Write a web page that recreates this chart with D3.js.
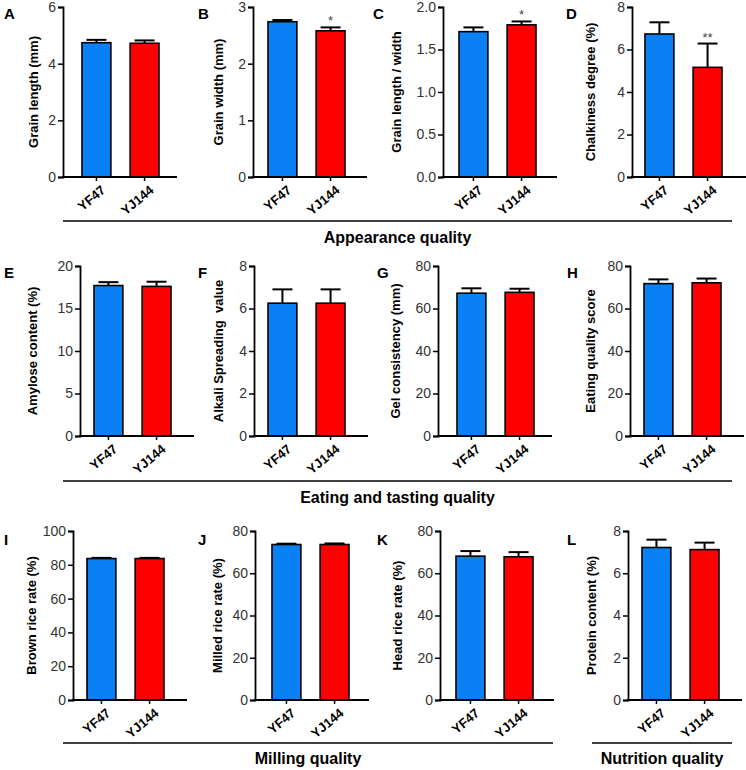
<!DOCTYPE html>
<html><head><meta charset="utf-8">
<script src="https://cdn.jsdelivr.net/npm/d3@7/dist/d3.min.js"></script>
<style>
body{margin:0;background:#fff;}
svg{font-family:"Liberation Sans",Arial,sans-serif;}
</style></head>
<body><svg id="c" width="746" height="770"></svg>
<script>
// ---- data ----
const categories = ["YF47", "YJ144"];
const panelLetters = ["A","B","C","D","E","F","G","H","I","J","K","L"];
const yLabels = ["Grain length (mm)","Grain width (mm)","Grain length / width","Chalkiness degree (%)",
  "Amylose content (%)","Alkali Spreading  value","Gel consistency (mm)","Eating quality score",
  "Brown rice rate (%)","Milled rice rate (%)","Head rice rate (%)","Protein content (%)"];
const yf47Mean = [4.74, 2.74, 1.71, 6.73, 17.7, 6.25, 67.2, 71.7, 83.7, 73.6, 68.1, 7.22];
const yf47Err  = [0.10, 0.03, 0.05, 0.55, 0.40, 0.65, 2.3, 2.0, 0.4, 0.4, 2.4, 0.37];
const yj144Mean= [4.72, 2.58, 1.79, 5.16, 17.6, 6.25, 67.6, 72.1, 83.7, 73.6, 67.8, 7.12];
const yj144Err = [0.10, 0.06, 0.04, 1.12, 0.55, 0.65, 1.7, 2.0, 0.4, 0.5, 2.2, 0.33];
const yTicks = [[0,2,4,6],[0,1,2,3],[0,0.5,1.0,1.5,2.0],[0,2,4,6,8],
  [0,5,10,15,20],[0,2,4,6,8],[0,20,40,60,80],[0,20,40,60,80],
  [0,20,40,60,80,100],[0,20,40,60,80],[0,20,40,60,80],[0,2,4,6,8]];
const tickFormats = ["d","d",".1f","d","d","d","d","d","d","d","d","d"];
const significance = [["",""],["","*"],["","*"],["","**"],["",""],["",""],["",""],["",""],["",""],["",""],["",""],["",""]];
const groupNames = ["Appearance quality","Eating and tasting quality","Milling quality","Nutrition quality"];

// ---- layout ----
const axisX   = [63,253,443,632, 80,254,438,630, 73,255,440,628];
const barOff  = [19,15,16,13, 14,14,19,14, 14,17,16,14];
const labelX  = [33,218,396,590, 32,218,395,590, 31,217,397,591];
const letterX = [4,198,373,566, 4,198,377,567, 4,198,377,567];
const rowTop  = [7,266,531];
const rowBot  = [177,436,700];
const groupLines = [[63,732,221,243],[63,732,481,503],[63,553,743,764],[592,732,743,764]];
const colors = ["#0a80f5","#ff0000"];

const svg = d3.select("#c");

panelLetters.forEach((L,i)=>{
  const row = Math.floor(i/4);
  const g = svg.append("g");
  const y = d3.scaleLinear().domain([0, d3.max(yTicks[i])]).range([rowBot[row], rowTop[row]]);
  const x = d3.scaleBand().domain(categories)
    .range([axisX[i]+barOff[i], axisX[i]+barOff[i]+77]).paddingInner(0.4).paddingOuter(0);
  const means = [yf47Mean[i], yj144Mean[i]];
  const errs = [yf47Err[i], yj144Err[i]];

  // error bars (upper only)
  categories.forEach((c,k)=>{
    const cx = x(c)+x.bandwidth()/2;
    g.append("line").attr("x1",cx).attr("x2",cx).attr("y1",y(means[k])).attr("y2",y(means[k]+errs[k]))
      .attr("stroke","#000").attr("stroke-width",2);
    g.append("line").attr("x1",cx-10).attr("x2",cx+10).attr("y1",y(means[k]+errs[k])).attr("y2",y(means[k]+errs[k]))
      .attr("stroke","#000").attr("stroke-width",2);
    if (significance[i][k]) {
      g.append("text").attr("x",cx).attr("y",y(means[k]+errs[k])-2).attr("text-anchor","middle")
        .attr("font-size",13).attr("fill","#444").text(significance[i][k]);
    }
  });
  // bars
  g.selectAll("rect.bar").data(categories).enter().append("rect")
    .attr("x",c=>x(c)).attr("width",x.bandwidth())
    .attr("y",(c,k)=>y(means[k])).attr("height",(c,k)=>y(0)-y(means[k]))
    .attr("fill",(c,k)=>colors[k]).attr("stroke","#000").attr("stroke-width",1.6);

  // y axis
  const ya = g.append("g").attr("transform",`translate(${axisX[i]},0)`)
    .call(d3.axisLeft(y).tickValues(yTicks[i]).tickFormat(d3.format(tickFormats[i])).tickSize(5).tickPadding(2));
  ya.select(".domain").attr("stroke","#000").attr("stroke-width",1.8);
  ya.selectAll(".tick line").attr("stroke","#000").attr("stroke-width",1.5);
  ya.selectAll(".tick text").attr("font-size",14).attr("fill","#333").attr("font-family","Liberation Sans, Arial, sans-serif");

  // x axis
  g.append("line").attr("x1",axisX[i]-1).attr("x2",axisX[i]+114).attr("y1",y(0)).attr("y2",y(0))
    .attr("stroke","#000").attr("stroke-width",1.8);
  categories.forEach(c=>{
    const cx = x(c)+x.bandwidth()/2;
    g.append("line").attr("x1",cx).attr("x2",cx).attr("y1",y(0)).attr("y2",y(0)+4).attr("stroke","#000").attr("stroke-width",1.5);
    g.append("text").attr("transform",`translate(${cx+7},${y(0)+11}) rotate(-40)`)
      .attr("text-anchor","end").attr("dy","0.35em").attr("font-size",13).attr("font-weight","bold").text(c);
  });

  // y label
  g.append("text").attr("transform",`translate(${labelX[i]},${(rowTop[row]+rowBot[row])/2}) rotate(-90)`)
    .attr("text-anchor","middle").attr("dy","0.35em").attr("font-size",13).attr("font-weight","bold")
    .style("white-space","pre").text(yLabels[i]);

  // panel letter
  g.append("text").attr("x",letterX[i]).attr("y",rowTop[row]+12 + (row===2?2:0))
    .attr("font-size",15).attr("font-weight","bold").text(L);
});

groupNames.forEach((n,j)=>{
  const [x1,x2,ly,ty] = groupLines[j];
  svg.append("line").attr("x1",x1).attr("x2",x2).attr("y1",ly).attr("y2",ly).attr("stroke","#000").attr("stroke-width",1.5);
  svg.append("text").attr("x",(x1+x2)/2).attr("y",ty).attr("text-anchor","middle")
    .attr("font-size",16).attr("font-weight","bold").text(n);
});
</script></body></html>
